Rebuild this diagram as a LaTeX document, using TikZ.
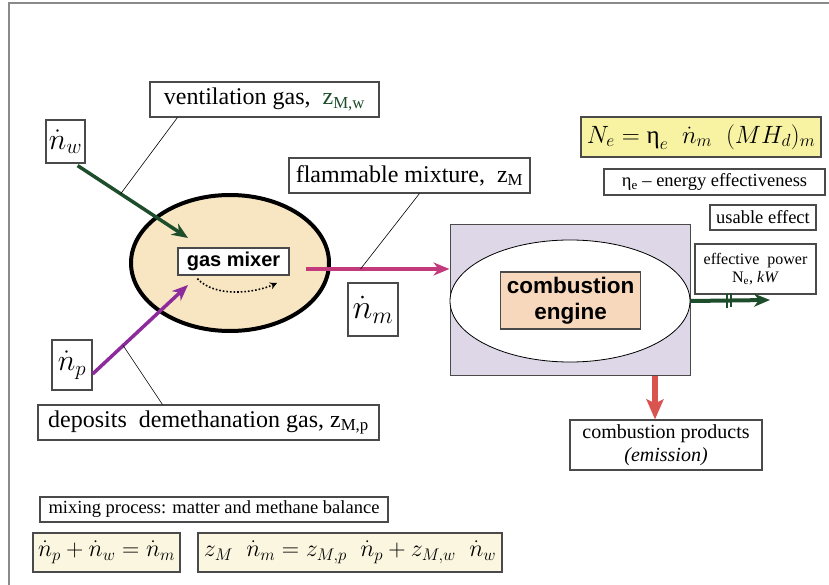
\RequirePackage{fix-cm}
\documentclass[tikz,border=0pt]{standalone}
\usepackage{fontspec}
\setmainfont{Liberation Serif}
\setsansfont{Liberation Sans}
\usetikzlibrary{arrows.meta,shapes.geometric}

\definecolor{framegray}{HTML}{8A8A8A}
\definecolor{boxgray}{HTML}{4A4A4A}
\definecolor{mixerfill}{HTML}{F7E6C1}
\definecolor{enginefill}{HTML}{DDD7E8}
\definecolor{corefill}{HTML}{F8D8BC}
\definecolor{formulafill}{HTML}{F7F3A3}
\definecolor{balancefill}{HTML}{FAF6DF}
\definecolor{ventgreen}{HTML}{1E4D2B}
\definecolor{mixpurple}{HTML}{8E2B9C}
\definecolor{flowpink}{HTML}{C23A7C}
\definecolor{emitred}{HTML}{D9534F}

\begin{document}
\begin{tikzpicture}
            [x=1pt, y=-1pt,
            box/.style={draw=boxgray, line width=1.2pt, fill=white, inner sep=0pt, align=center, font=\fontsize{24}{27}\selectfont},
            mathbox/.style={box, font=\fontsize{30}{32}\selectfont},
            smallbox/.style={box, font=\fontsize{18.5}{21}\selectfont},
            boldbox/.style={box, font=\sffamily\bfseries\fontsize{20}{26}\selectfont},
            flow/.style={line width=3.5pt, -{Stealth[length=16pt, width=13pt, inset=5pt]}},
            leader/.style={black, line width=0.6pt},
            bar/.style={ventgreen, line width=2.5pt}]

            \useasboundingbox (0,0) rectangle (829,585);

            % frame
            \draw[framegray, line width=2pt] (9,585) -- (9,3) -- (829,3);

            % gas mixer
            \node[ellipse, draw=black, line width=4pt, fill=mixerfill, minimum width=198, minimum height=136, inner sep=0pt] (mixer) at (230,263) {};
            \node[boldbox, minimum width=111, minimum height=27] (gasmix) at (233.5,261.5) {gas mixer};
            \draw[black, line width=1.6pt, dotted, -{Stealth[length=7pt, width=7pt]}]
                ([xshift=20pt, yshift=-3pt]gasmix.south west) .. controls (215,298) and (255,293) .. (277,283);

            % combustion engine
            \node[draw=boxgray, line width=1pt, fill=enginefill, minimum width=240, minimum height=150, inner sep=0pt] (engine) at (570,300) {};
            \node[ellipse, draw=black, line width=0.8pt, fill=white, minimum width=240, minimum height=122, inner sep=0pt] (core) at (570,301) {};
            \node[boldbox, fill=corefill, font=\sffamily\bfseries\fontsize{22.5}{26}\selectfont, minimum width=140, minimum height=57] (ce) at (570.5,300.5) {combustion\\engine};

            % inlet labels
            \node[box, minimum width=229, minimum height=35] (vent) at (264.5,99.5) {ventilation gas,~ {\color{ventgreen}z\textsubscript{M,w}}};
            \node[mathbox, minimum width=39, minimum height=43] (nw) at (65.5,141.5) {$\dot n_w$};
            \node[mathbox, minimum width=40, minimum height=50] (np) at (72,365) {$\dot n_p$};
            \node[box, minimum width=341, minimum height=35] (dep) at (208.5,422.5) {deposits~ demethanation gas, z\textsubscript{M,p}};
            \node[box, minimum width=241, minimum height=35] (flam) at (409.5,175.5) {flammable mixture,~ z\textsubscript{M}};
            \node[mathbox, font=\fontsize{34}{36}\selectfont, minimum width=50, minimum height=53] (nm) at (373,309.5) {$\dot n_m$};

            % outlet labels
            \node[box, fill=formulafill, font=\fontsize{25}{28}\selectfont, minimum width=240, minimum height=40] (form) at (701,137) {$N_e = \mbox{η}_e\;\; \dot n_m\;\; (MH_d)_m$};
            \node[smallbox, minimum width=221, minimum height=26] (eta) at (714.5,182) {η\textsubscript{e} -- energy effectiveness};
            \node[smallbox, minimum width=106, minimum height=25] (usable) at (763,217.5) {usable effect};
            \node[box, font=\fontsize{16}{18}\selectfont, minimum width=121, minimum height=50] (power) at (755.5,269) {effective~ power\\N\textsubscript{e}, \textit{kW}};
            \node[box, font=\fontsize{20}{23}\selectfont, minimum width=192, minimum height=50] (prod) at (666,445) {combustion products\\\textit{(emission)}};

            % balances
            \node[smallbox, minimum width=348, minimum height=25] (mixing) at (214,509.5) {mixing process: matter and methane balance};
            \node[box, fill=balancefill, font=\fontsize{24}{26}\selectfont, minimum width=147, minimum height=39] (bal1) at (106.5,552.5) {$\dot n_p + \dot n_w = \dot n_m$};
            \node[box, fill=balancefill, font=\fontsize{24}{26}\selectfont, minimum width=304, minimum height=39] (bal2) at (350,552.5) {$z_M\;\; \dot n_m = z_{M,p}\;\; \dot n_p + z_{M,w}\;\; \dot n_w$};

            % flows
            \coordinate (win) at (188,238);
            \coordinate (pin) at (188,285);
            \coordinate (mout) at (306,269);
            \coordinate (pout) at (770,300);
            \draw[flow, ventgreen] ([xshift=-8pt, yshift=-2pt]nw.south east) -- (win) coordinate[pos=0.39] (wlead);
            \draw[flow, mixpurple] ([yshift=-9pt]np.east) -- (pin) coordinate[pos=0.32] (plead);
            \draw[flow, flowpink, line width=4.5pt] (mout) -- (engine.west |- mout) coordinate[pos=0.38] (mlead);
            \draw[flow, ventgreen, line width=4pt] (core.east) -- (pout) coordinate[pos=0.46] (cap1) coordinate[pos=0.51] (cap2);
            \draw[bar] ([yshift=7pt]cap1) -- ([yshift=-7pt]cap1);
            \draw[bar] ([yshift=7pt]cap2) -- ([yshift=-7pt]cap2);
            \draw[emitred, line width=6pt, -{Stealth[length=20pt, width=17pt, inset=4pt]}] ([xshift=85pt]engine.south) -- ([xshift=-11pt]prod.north);

            % leaders
            \draw[leader] (wlead) -- ([xshift=28pt]vent.south west);
            \draw[leader] (plead) -- ([xshift=125pt]dep.north west);
            \draw[leader] (mlead) -- ([xshift=131pt]flam.south west);

        \end{tikzpicture}
\end{document}
